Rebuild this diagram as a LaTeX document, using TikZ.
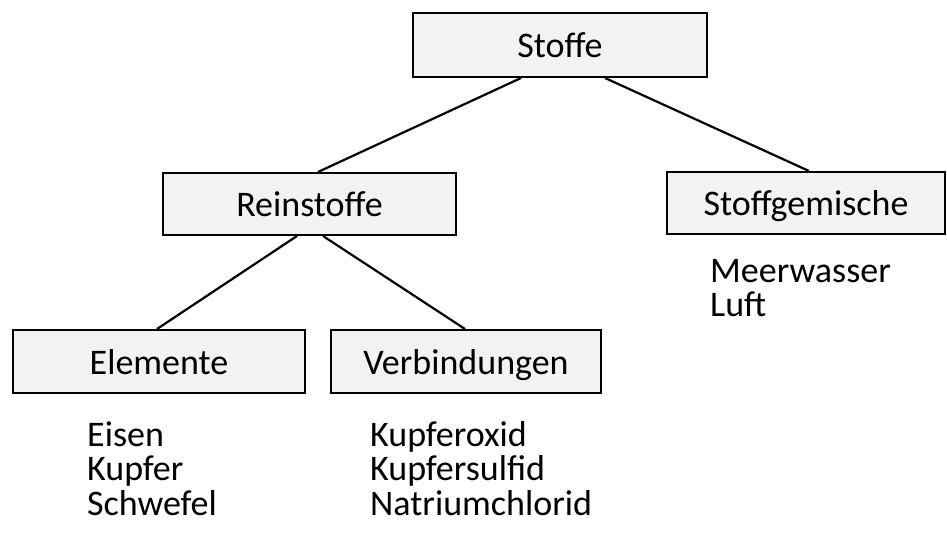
\documentclass[tikz,border=0pt]{standalone}
\usepackage{fontspec}
\setmainfont{Carlito}
\usepackage{xcolor}
\usetikzlibrary{positioning}

\definecolor{boxfill}{HTML}{F2F2F2}

\begin{document}
\begin{tikzpicture}[x=1pt, y=-1pt,
    box/.style={draw, line width=2pt, fill=boxfill, inner sep=0pt,
      font=\fontsize{36}{34.5}\selectfont, text height=27pt, text depth=1pt},
    edge/.style={line width=2.2pt},
    items/.style={anchor=base west, inner sep=0pt, align=left,
      font=\fontsize{36}{34.5}\selectfont}]
      \useasboundingbox[fill=white] (0,0) rectangle (947,537);

      % Boxes
      \node[box, minimum width=294pt, minimum height=64pt] (stoffe) at (560,45) {Stoffe};
      \node[box, minimum width=293pt, minimum height=62pt] (reinstoffe) at (309.5,204) {Reinstoffe};
      \node[box, minimum width=278pt, minimum height=62pt] (gemische) at (806,203) {Stoffgemische};
      \node[box, minimum width=292pt, minimum height=63pt] (elemente) at (159,361.5) {Elemente};
      \node[box, minimum width=270pt, minimum height=63pt] (verbindungen) at (466,361.5) {Verbindungen};

      % Connections
      \draw[edge] ([xshift=-39pt]stoffe.south) -- ([xshift=8.5pt]reinstoffe.north);
      \draw[edge] ([xshift=45pt]stoffe.south) -- ([xshift=3pt]gemische.north);
      \draw[edge] ([xshift=-12.5pt]reinstoffe.south) -- ([xshift=-2pt]elemente.north);
      \draw[edge] ([xshift=13.5pt]reinstoffe.south) -- ([xshift=-1pt]verbindungen.north);

      % Examples (base anchor sits on the last line)
      \node[items] (gemischeliste) at (710,316.5) {Meerwasser\\Luft};
      \node[items] (elementeliste) at (87,515) {Eisen\\Kupfer\\Schwefel};
      \node[items] (verbindungenliste) at (370,515) {Kupferoxid\\Kupfersulfid\\Natriumchlorid};
    \end{tikzpicture}
\end{document}
